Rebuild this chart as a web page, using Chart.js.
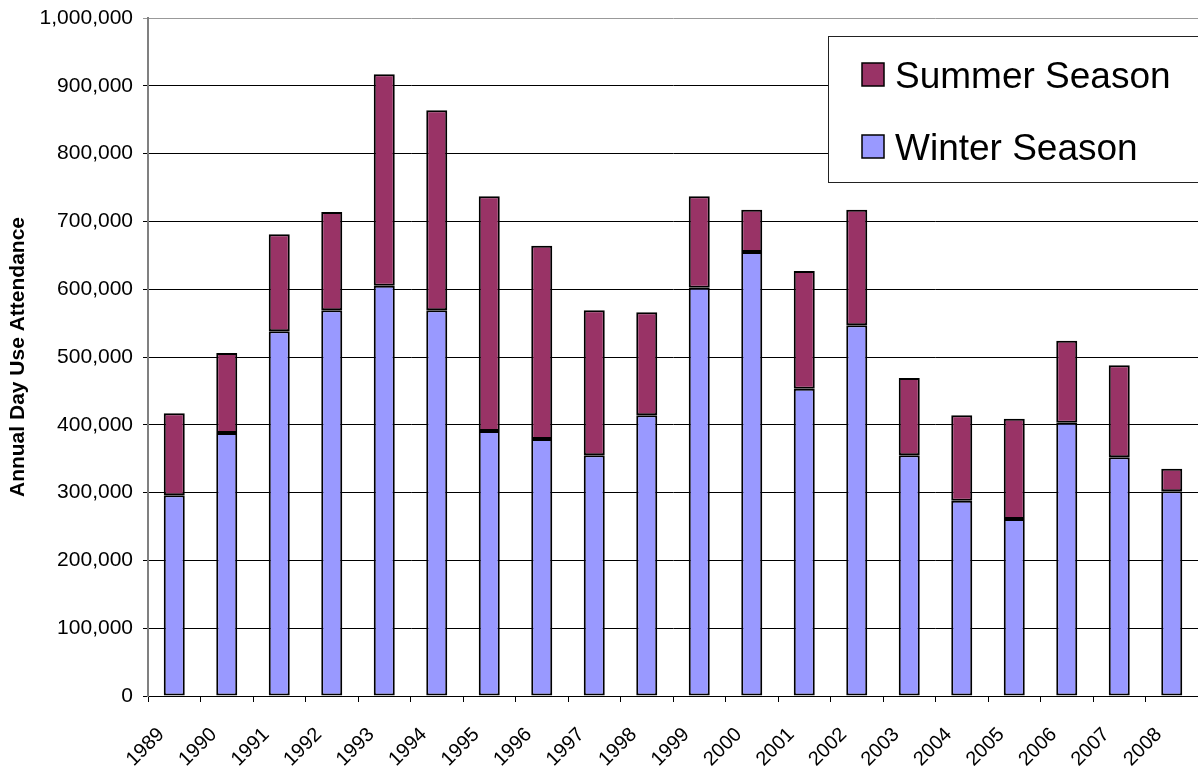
<!DOCTYPE html>
<html>
<head>
<meta charset="utf-8">
<script src="https://cdn.jsdelivr.net/npm/chart.js@4/dist/chart.umd.min.js"></script>
<style>
  html, body { margin: 0; padding: 0; background: #fff; }
  #wrap { width: 1198px; height: 768px; }
</style>
</head>
<body>
<div id="wrap"><canvas id="attendance-chart"></canvas></div>
<script>
/* chart data */
const years = ['1989', '1990', '1991', '1992', '1993', '1994', '1995', '1996', '1997', '1998',
               '1999', '2000', '2001', '2002', '2003', '2004', '2005', '2006', '2007', '2008'];
const winterSeason = [296000, 388000, 538000, 569000, 605000, 569000, 391000, 379000, 355000, 414000,
                      602000, 655000, 453000, 547000, 355000, 288000, 261000, 403000, 352000, 302000];
const annualTotal = [417000, 506000, 681000, 714000, 917000, 864000, 737000, 664000, 569000, 566000,
                     737000, 717000, 627000, 717000, 469000, 414000, 409000, 524000, 488000, 335000];
const summerSeason = annualTotal.map((t, i) => t - winterSeason[i]);

const yTicks = [0, 100000, 200000, 300000, 400000, 500000, 600000, 700000, 800000, 900000, 1000000];

/* legend drawn inside the plot, like the spreadsheet one */
const boxLegend = {
    id: 'boxLegend',
    afterDraw(chart) {
        const ctx = chart.ctx;
        ctx.save();
        ctx.fillStyle = '#fff';
        ctx.fillRect(828.5, 36.5, 380, 146);
        ctx.strokeStyle = '#222';
        ctx.lineWidth = 1;
        ctx.strokeRect(828.5, 36.5, 380, 146);
        const items = chart.data.datasets.slice().reverse();
        ctx.font = '37px "Liberation Sans", Arial, sans-serif';
        ctx.textBaseline = 'alphabetic';
        items.forEach((ds, i) => {
            const y = 63 + i * 72;
            ctx.fillStyle = ds.backgroundColor;
            ctx.fillRect(862, y, 22, 23);
            ctx.strokeStyle = '#000';
            ctx.lineWidth = 1.5;
            ctx.strokeRect(862, y, 22, 23);
            ctx.fillStyle = '#000';
            ctx.fillText(ds.label, 895, y + 25);
        });
        ctx.restore();
    }
};

var ctx = document.getElementById('attendance-chart');
var attendanceChart = new Chart(ctx, {
    type: 'bar',
    data: {
        labels: years,
        datasets: [
            {
                label: 'Winter Season',
                data: winterSeason,
                backgroundColor: '#9999FF',
                borderColor: '#000',
                borderWidth: 2,
                borderSkipped: false
            },
            {
                label: 'Summer Season',
                data: summerSeason,
                backgroundColor: '#993366',
                borderColor: '#000',
                borderWidth: 2,
                borderSkipped: false
            }
        ]
    },
    options: {
        responsive: true,
        maintainAspectRatio: false,
        animation: false,
        layout: { padding: { top: 18, right: 0, left: 0, bottom: 0 } },
        datasets: { bar: { barPercentage: 0.4, categoryPercentage: 1 } },
        plugins: {
            legend: { display: false },
            tooltip: { enabled: false }
        },
        scales: {
            x: {
                stacked: true,
                afterFit(scale) {
                    scale.height = 72;
                    scale.paddingLeft = 0;
                    scale.paddingRight = 0;
                },
                grid: {
                    offset: true,
                    drawOnChartArea: false,
                    drawTicks: true,
                    tickLength: 6,
                    color: '#000'
                },
                border: { color: '#000', width: 1 },
                ticks: {
                    color: '#000',
                    maxRotation: 45,
                    minRotation: 45,
                    labelOffset: -13,
                    padding: 21,
                    font: { family: '"Liberation Sans", Arial, sans-serif', size: 20 }
                }
            },
            y: {
                stacked: true,
                min: 0,
                max: 1000000,
                afterFit(scale) {
                    scale.width = 148;
                    scale.paddingTop = 0;
                    scale.paddingBottom = 0;
                },
                afterBuildTicks(scale) { scale.ticks = yTicks.map(v => ({ value: v })); },
                grid: {
                    color: (c) => c.tick && c.tick.value === 1000000 ? '#999' : '#000',
                    tickLength: 5,
                    lineWidth: 1
                },
                border: { color: '#808080', width: 2 },
                title: {
                    display: true,
                    text: 'Annual Day Use Attendance',
                    color: '#000',
                    padding: { top: 6, bottom: 0 },
                    font: { family: '"Liberation Sans", Arial, sans-serif', size: 21, weight: 'bold' }
                },
                ticks: {
                    color: '#000',
                    padding: 10,
                    font: { family: '"Liberation Sans", Arial, sans-serif', size: 21 },
                    callback: (v) => v.toLocaleString('en-US')
                }
            }
        }
    },
    plugins: [boxLegend]
});
</script>
</body>
</html>
